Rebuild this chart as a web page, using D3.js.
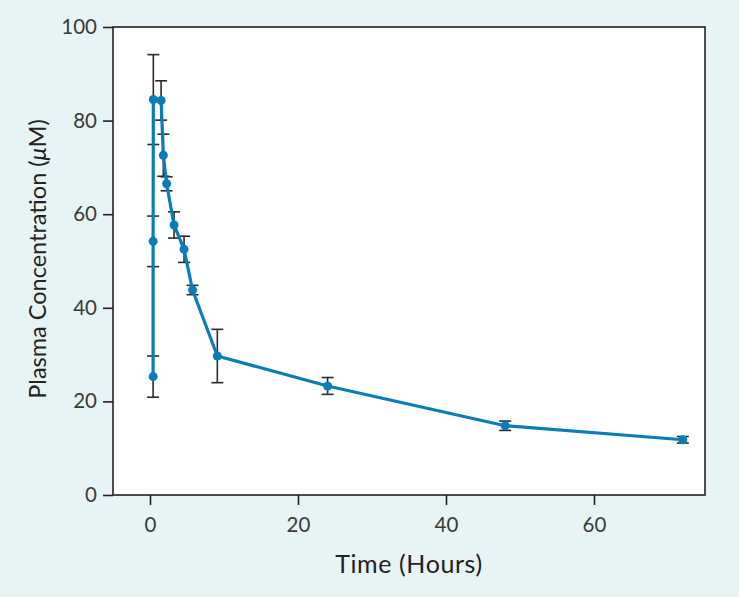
<!DOCTYPE html>
<html><head><meta charset="utf-8">
<script src="https://cdn.jsdelivr.net/npm/d3@7"></script>
<style>
html,body{margin:0;padding:0;background:#e7f4f6;}
svg{display:block;}
</style></head>
<body>
<script>
// Data
const timeHours = [0.42, 0.42, 0.45, 1.5, 1.8, 2.25, 3.25, 4.6, 5.75, 9.1, 24, 48, 72];
const concentration = [25.3, 54.2, 84.5, 84.3, 72.6, 66.5, 57.7, 52.5, 43.8, 29.7, 23.3, 14.8, 11.8];
const errorSD = [4.4, 5.4, 9.6, 4.2, 4.5, 1.5, 2.8, 2.8, 1.0, 5.7, 1.8, 1.0, 0.7];
const xTicks = [0, 20, 40, 60];
const yTicks = [0, 20, 40, 60, 80, 100];

const W = 739, H = 597;
const m = {left:113, right:34, top:27, bottom:102};
const svg = d3.select("body").append("svg").attr("width", W).attr("height", H);
svg.append("rect").attr("width", W).attr("height", H).attr("fill", "#e7f4f6");

const x = d3.scaleLinear().domain([-5, 75]).range([m.left, W - m.right]);
const y = d3.scaleLinear().domain([0, 100]).range([H - m.bottom, m.top]);

const font = "Lato, 'Open Sans', sans-serif";
const axisColor = "#222";

// plot area
svg.append("rect")
  .attr("x", x(-5)).attr("y", y(100))
  .attr("width", x(75) - x(-5)).attr("height", y(0) - y(100))
  .attr("fill", "#fff").attr("stroke", axisColor).attr("stroke-width", 1.6);

// y axis
const yAxis = svg.append("g").attr("transform", `translate(${x(-5)},0)`)
  .call(d3.axisLeft(y).tickValues(yTicks).tickSize(10).tickPadding(6).tickFormat(d3.format("d")));
yAxis.select(".domain").remove();
yAxis.selectAll("line").attr("stroke", axisColor).attr("stroke-width", 1.6);
yAxis.selectAll("text").attr("font-family", font).attr("font-size", 20.5).attr("font-weight", 400).attr("fill", "#3a3a3a");

// x axis
const xAxis = svg.append("g").attr("transform", `translate(0,${y(0)})`)
  .call(d3.axisBottom(x).tickValues(xTicks).tickSize(10).tickPadding(12).tickFormat(d3.format("d")));
xAxis.select(".domain").remove();
xAxis.selectAll("line").attr("stroke", axisColor).attr("stroke-width", 1.6);
xAxis.selectAll("text").attr("font-family", font).attr("font-size", 20.5).attr("font-weight", 400).attr("fill", "#3a3a3a");

// axis titles
svg.append("text").attr("x", (x(-5) + x(75)) / 2).attr("y", 573)
  .attr("text-anchor", "middle").attr("font-family", font).attr("font-size", 25).attr("letter-spacing", 0.6).attr("fill", "#222")
  .text("Time (Hours)");
const yt = svg.append("text").attr("transform", `translate(46,${(y(0)+y(100))/2 - 2}) rotate(-90)`)
  .attr("text-anchor", "middle").attr("font-family", font).attr("font-size", 23.5).attr("fill", "#222");
yt.append("tspan").text("Plasma Concentration (");
yt.append("tspan").attr("font-style", "italic").text("μ");
yt.append("tspan").text("M)");

const data = timeHours.map((t, i) => ({t, c: concentration[i], e: errorSD[i]}));

// error bars
const eb = svg.append("g").attr("stroke", "#2b2b2b").attr("stroke-width", 1.6);
data.forEach(d => {
  const cx = x(d.t);
  eb.append("line").attr("x1", cx).attr("x2", cx).attr("y1", y(d.c + d.e)).attr("y2", y(d.c - d.e));
  eb.append("line").attr("x1", cx - 6).attr("x2", cx + 6).attr("y1", y(d.c + d.e)).attr("y2", y(d.c + d.e));
  eb.append("line").attr("x1", cx - 6).attr("x2", cx + 6).attr("y1", y(d.c - d.e)).attr("y2", y(d.c - d.e));
});

const blue = "#0a7db8";
svg.append("path").datum(data)
  .attr("d", d3.line().x(d => x(d.t)).y(d => y(d.c)))
  .attr("fill", "none").attr("stroke", blue).attr("stroke-width", 3.2).attr("stroke-linejoin", "round");

svg.append("g").selectAll("circle").data(data).join("circle")
  .attr("cx", d => x(d.t)).attr("cy", d => y(d.c)).attr("r", 4.5).attr("fill", blue);
</script>
</body></html>
